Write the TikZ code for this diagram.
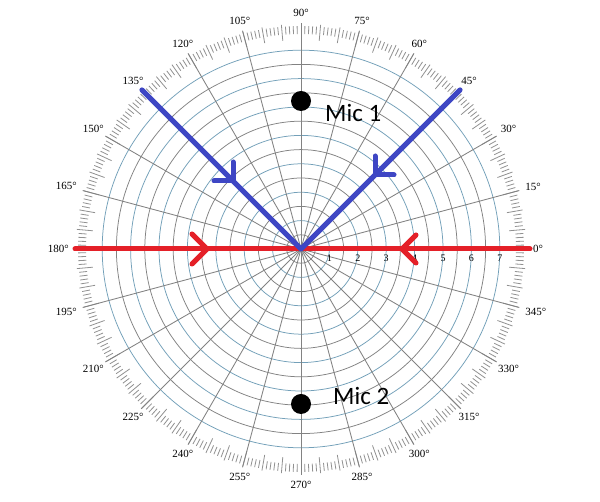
\documentclass[tikz,border=0pt]{standalone}
\usepackage{fontspec}
\setmainfont{Liberation Serif}
\newfontfamily\micfont{Carlito}
\usetikzlibrary{calc}
\definecolor{gridgray}{RGB}{130,130,130}
\definecolor{gridblue}{RGB}{115,160,185}
\definecolor{tickgray}{RGB}{145,145,145}
\definecolor{redline}{RGB}{228,32,40}
\definecolor{blueline}{RGB}{62,70,196}
\tikzset{
  graycirc/.style={draw=gridgray, line width=0.75pt},
  bluecirc/.style={draw=gridblue, line width=0.75pt},
  radial/.style={draw=gridgray, line width=0.85pt},
  tickmark/.style={draw=tickgray, line width=0.8pt},
  deglabel/.style={font=\fontsize{11}{11}\selectfont, inner sep=0pt},
  numlabel/.style={font=\fontsize{10}{10}\selectfont, inner sep=0pt},
  redpath/.style={draw=redline, line width=5pt, line cap=round, line join=round},
  bluepath/.style={draw=blueline, line width=5pt, line cap=round, line join=round},
  micdot/.style={circle, fill=black, minimum size=20pt, inner sep=0pt},
  miclabel/.style={font=\micfont\fontsize{25}{25}\selectfont, inner sep=0pt, anchor=west},
}
\begin{document}
\begin{tikzpicture}[x=1pt,y=1pt]
\useasboundingbox (0,0) rectangle (600,502);
\fill[white] (0,0) rectangle (600,502);
\begin{scope}[shift={(301,253)}]
\coordinate (c) at (0,0);
% circles
\foreach \k in {1,...,14}{
  \pgfmathsetmacro\r{14.2*\k}
  \ifodd\k \draw[graycirc] (c) circle (\r); \else \draw[bluecirc] (c) circle (\r); \fi
}
% tick ring
\foreach \a in {0,...,359}{
  \pgfmathtruncatemacro\m{mod(\a,5)}
  \ifnum\m=0 \draw[tickmark] (\a:209) -- (\a:225); \else \draw[tickmark] (\a:215) -- (\a:223); \fi
}
% radial lines
\foreach \a in {0,15,...,345}{
  \coordinate (re\a) at (\a:226);
  \draw[radial] (c) -- (re\a);
}
% degree labels
\foreach \a in {0,15,...,345}{
  \pgfmathtruncatemacro\an{mod(\a+180,360)}
  \node[deglabel, anchor=\an] (deg\a) at (\a:232) {\a°};
}
% number labels
\foreach \k in {1,...,7}{
  \node[numlabel] (n\k) at ({28.4*\k},-9) {\k};
}
% red path
\coordinate (rl) at (180:226);
\coordinate (rr) at (0:229);
\draw[redpath] (rl) -- (rr);
\coordinate (ra) at (-94,0);
\draw[redpath] ($(ra)+(-15,15)$) -- (ra) -- ($(ra)+(-15,-15)$);
\coordinate (rb) at (101,0);
\draw[redpath] ($(rb)+(14,14)$) -- (rb) -- ($(rb)+(14,-14)$);
% blue path
\coordinate (bl) at (135:225);
\coordinate (br) at (45:225);
\draw[bluepath] (bl) -- (c) -- (br);
\coordinate (ba) at (-68,68);
\draw[bluepath] ($(ba)+(0,19)$) -- (ba) -- ($(ba)+(-19,0)$);
\coordinate (bb) at (74,74);
\draw[bluepath] ($(bb)+(0,19)$) -- (bb) -- ($(bb)+(19,0)$);
% mics
\node[micdot] (mic1) at (0,148) {};
\node[micdot] (mic2) at (0,-155) {};
\node[miclabel] (mic1t) at (24,136) {Mic 1};
\node[miclabel] (mic2t) at (32,-147) {Mic 2};
\end{scope}
\end{tikzpicture}
\end{document}
